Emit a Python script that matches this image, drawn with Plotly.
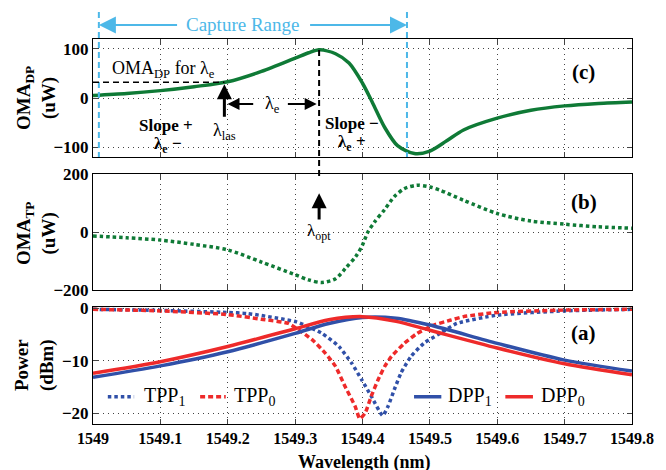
import plotly.graph_objects as go
from plotly.subplots import make_subplots

# ---------------- data ----------------
lam_dp = [1549.0, 1549.05, 1549.1, 1549.15, 1549.2, 1549.25, 1549.3, 1549.32, 1549.336,
          1549.36, 1549.38, 1549.40, 1549.415, 1549.433, 1549.452, 1549.477, 1549.5,
          1549.525, 1549.55, 1549.6, 1549.65, 1549.7, 1549.75, 1549.8]
oma_dp = [5, 9, 15, 23, 33, 54, 81, 92, 98, 90, 71, 30, -10, -60, -97, -113, -108,
          -87, -65, -41, -25, -16, -11, -8]

lam_tp = [1549.0, 1549.05, 1549.1, 1549.15, 1549.2, 1549.25, 1549.3, 1549.32, 1549.34,
          1549.36, 1549.375, 1549.39, 1549.40, 1549.408, 1549.418, 1549.433, 1549.447,
          1549.462, 1549.481, 1549.5, 1549.515, 1549.55, 1549.6, 1549.65, 1549.7,
          1549.75, 1549.8]
oma_tp = [-14, -20, -28, -43, -62, -104, -148, -166, -175, -162, -125, -85, -45, 0, 35,
          78, 122, 150, 162, 156, 145, 110, 64, 38, 27, 18, 13]

lam_t0 = [1549.0, 1549.1, 1549.2, 1549.25, 1549.29, 1549.326, 1549.345, 1549.36, 1549.374,
          1549.389, 1549.396, 1549.404, 1549.413, 1549.423, 1549.433, 1549.443, 1549.462,
          1549.481, 1549.506, 1549.53, 1549.55, 1549.6, 1549.7, 1549.8]
tpp0 = [-0.2, -0.5, -1.2, -2.1, -2.9, -6.1, -8.6, -11.1, -14.9, -18.7, -21.1, -20.0,
        -16.8, -13.7, -11.1, -9.2, -6.7, -4.8, -3.2, -2.3, -1.6, -0.8, -0.35, -0.2]

lam_t1 = [1549.0, 1549.1, 1549.2, 1549.229, 1549.302, 1549.340, 1549.365, 1549.384,
          1549.399, 1549.413, 1549.43, 1549.438, 1549.447, 1549.457, 1549.472, 1549.491,
          1549.515, 1549.54, 1549.6, 1549.7, 1549.8]
tpp1 = [-0.2, -0.4, -0.8, -1.0, -2.6, -4.8, -7.3, -10.5, -13.7, -16.8, -20.5, -18.7,
        -15.6, -12.4, -9.2, -6.7, -4.8, -2.9, -1.3, -0.5, -0.2]

lam_d = [1549.0, 1549.1, 1549.2, 1549.3, 1549.35, 1549.4, 1549.45, 1549.5, 1549.6,
         1549.7, 1549.8]
dpp0 = [-12.4, -10.2, -7.3, -3.9, -2.2, -1.6, -2.5, -4.2, -7.6, -10.6, -12.7]
dpp1 = [-13.2, -11.0, -8.3, -4.8, -2.9, -1.75, -1.9, -3.2, -6.7, -9.9, -12.0]

x_ticks = [1549, 1549.1, 1549.2, 1549.3, 1549.4, 1549.5, 1549.6, 1549.7, 1549.8]
x_ticktext = ["1549", "1549.1", "1549.2", "1549.3", "1549.4", "1549.5", "1549.6", "1549.7", "1549.8"]

lam_opt = 1549.3356
lam_las = 1549.195
cap_lo, cap_hi = 1549.0087, 1549.466
oma_las = 32

# ---------------- styles ----------------
GREEN = "#0f7a36"
BLUE = "#3050a8"
RED = "#ee2a2a"
LBLUE = "#4db8e8"
SERIF = "Liberation Serif"

fig = make_subplots(rows=3, cols=1)

fig.add_trace(go.Scatter(x=lam_dp, y=oma_dp, mode="lines", line=dict(color=GREEN, width=3.5, shape="spline", smoothing=0.8)), row=1, col=1)
fig.add_trace(go.Scatter(x=lam_tp, y=oma_tp, mode="lines", line=dict(color=GREEN, width=3.5, dash="3.5px,3px", shape="spline", smoothing=0.8)), row=2, col=1)
fig.add_trace(go.Scatter(x=lam_t1, y=tpp1, mode="lines", line=dict(color=BLUE, width=3.5, dash="3.5px,3px", shape="spline", smoothing=0.5)), row=3, col=1)
fig.add_trace(go.Scatter(x=lam_t0, y=tpp0, mode="lines", line=dict(color=RED, width=3.5, dash="5px,3px", shape="spline", smoothing=0.5)), row=3, col=1)
fig.add_trace(go.Scatter(x=lam_d, y=dpp1, mode="lines", line=dict(color=BLUE, width=3.5, shape="spline", smoothing=0.8)), row=3, col=1)
fig.add_trace(go.Scatter(x=lam_d, y=dpp0, mode="lines", line=dict(color=RED, width=3.5, shape="spline", smoothing=0.8)), row=3, col=1)

tickfont = dict(family=SERIF, size=17, color="black", weight="bold")
common_x = dict(range=[1549, 1549.8], tickvals=x_ticks, ticktext=x_ticktext, ticks="inside", ticklen=5,
                showline=True, linecolor="black", linewidth=1, mirror="ticks",
                showgrid=True, gridcolor="#444", griddash="1px,4px", gridwidth=1, zeroline=False,
                tickfont=dict(family=SERIF, size=16, color="black", weight="bold"))
common_y = dict(ticks="inside", ticklen=5, showline=True, linecolor="black", linewidth=1, mirror="ticks",
                showgrid=True, gridcolor="#444", griddash="1px,4px", gridwidth=1, zeroline=False,
                tickfont=tickfont)

fig.update_layout(
    xaxis=dict(common_x, showticklabels=False, domain=[0, 1]),
    xaxis2=dict(common_x, showticklabels=False, domain=[0, 1]),
    xaxis3=dict(common_x, showticklabels=True, domain=[0, 1]),
    yaxis=dict(common_y, range=[-120, 120], tickvals=[-100, 0, 100], domain=[0.6935, 1.0]),
    yaxis2=dict(common_y, range=[-201, 201], tickvals=[-200, 0, 200], domain=[0.348, 0.6494]),
    yaxis3=dict(common_y, range=[-22.1, 0.3], tickvals=[-20, -10, 0], domain=[0.0, 0.3047]),
    width=666, height=470,
    margin=dict(l=93, r=24, t=39, b=46),
    paper_bgcolor="white", plot_bgcolor="white",
    showlegend=False,
    font=dict(family=SERIF, color="black"),
)

def py(px):
    return (424 - px) / 385.0

shapes = []
# capture range vertical dashed lines
for lx in (cap_lo, cap_hi):
    shapes.append(dict(type="line", xref="x", yref="paper", x0=lx, x1=lx, y0=py(12), y1=py(157),
                       line=dict(color=LBLUE, width=2, dash="6px,4px")))
# lambda_opt dashed vertical
shapes.append(dict(type="line", xref="x", yref="paper", x0=lam_opt, x1=lam_opt, y0=py(50), y1=py(176),
                   line=dict(color="black", width=2, dash="6px,4px")))
# OMA for lambda_e horizontal dashed
shapes.append(dict(type="line", xref="x", yref="y", x0=1549.0, x1=lam_las, y0=oma_las, y1=oma_las,
                   line=dict(color="black", width=1.5, dash="6px,4px")))
# legend samples in panel (a)
leg_y = -16.9
shapes.append(dict(type="line", xref="x3", yref="y3", x0=1549.022, x1=1549.061, y0=leg_y, y1=leg_y,
                   line=dict(color=BLUE, width=3.5, dash="3.5px,3px")))
shapes.append(dict(type="line", xref="x3", yref="y3", x0=1549.159, x1=1549.197, y0=leg_y, y1=leg_y,
                   line=dict(color=RED, width=3.5, dash="5px,3px")))
shapes.append(dict(type="line", xref="x3", yref="y3", x0=1549.4765, x1=1549.517, y0=leg_y, y1=leg_y,
                   line=dict(color=BLUE, width=3.5)))
shapes.append(dict(type="line", xref="x3", yref="y3", x0=1549.612, x1=1549.653, y0=leg_y, y1=leg_y,
                   line=dict(color=RED, width=3.5)))
fig.update_layout(shapes=shapes)

ann = []
def text(x, y, s, xref="x", yref="y", size=17, color="black", xanchor="center", bold=False, angle=0):
    ann.append(dict(x=x, y=y, xref=xref, yref=yref, text=s, showarrow=False, xanchor=xanchor,
                    yanchor="middle", textangle=angle,
                    font=dict(family=SERIF, size=size, color=color, weight="bold" if bold else "normal")))

def arrow(x, y, ax, ay, xref="x", yref="y", color="black", width=2.5, size=1.0):
    ann.append(dict(x=x, y=y, ax=ax, ay=ay, xref=xref, yref=yref, axref=xref, ayref=yref, text="",
                    showarrow=True, arrowhead=2, arrowsize=size, arrowwidth=width, arrowcolor=color))

def harrow_paper(x, ypaper, ax, color, width, size):
    ann.append(dict(x=x, y=ypaper, ax=ax, ay=0, xref="x", yref="paper", axref="x", ayref="pixel", text="",
                    showarrow=True, arrowhead=2, arrowsize=size, arrowwidth=width, arrowcolor=color))

# capture range
harrow_paper(cap_lo, py(25), 1549.127, LBLUE, 2, 1.7)
harrow_paper(cap_hi, py(25), 1549.320, LBLUE, 2, 1.7)
text(0.277, py(25), "Capture Range", xref="paper", yref="paper", size=19, color=LBLUE)

# panel (c) annotations
text(1549.025, 57, "OMA<sub>DP</sub> for λ<sub>e</sub>", xanchor="left", size=18)
arrow(lam_las, 28, lam_las, -41, width=3, size=1.0)
text(lam_las, -68, "λ<sub>las</sub>", size=18)
arrow(1549.1996, -12, 1549.240, -12, width=2, size=1.2)
arrow(1549.332, -12, 1549.287, -12, width=2, size=1.2)
text(1549.2667, -14, "λ<sub>e</sub>", size=18)
text(1549.109, -55, "Slope +", bold=True, size=17)
text(1549.112, -96, "λ<sub>e</sub> −", bold=True, size=17)
text(1549.385, -51, "Slope −", bold=True, size=17)
text(1549.385, -92, "λ<sub>e</sub> +", bold=True, size=17)
text(1549.7286, 53, "(c)", bold=True, size=21)

# panel (b)
arrow(lam_opt, 134, lam_opt, 38, xref="x2", yref="y2", width=3, size=1.0)
text(lam_opt, 0, "λ<sub>opt</sub>", xref="x2", yref="y2", size=17)
text(1549.7286, 103, "(b)", xref="x2", yref="y2", bold=True, size=21)

# panel (a)
text(1549.7286, -4.7, "(a)", xref="x3", yref="y3", bold=True, size=21)
text(1549.073, leg_y, "TPP<sub>1</sub>", xref="x3", yref="y3", xanchor="left", size=20)
text(1549.207, leg_y, "TPP<sub>0</sub>", xref="x3", yref="y3", xanchor="left", size=20)
text(1549.5246, leg_y, "DPP<sub>1</sub>", xref="x3", yref="y3", xanchor="left", size=20)
text(1549.6616, leg_y, "DPP<sub>0</sub>", xref="x3", yref="y3", xanchor="left", size=20)

# axis titles
def pxx(px):
    return (px - 93) / 549.0
text(pxx(35), py(98), "OMA<sub>DP</sub><br>(uW)", xref="paper", yref="paper", bold=True, size=19, angle=-90)
text(pxx(35), py(234), "OMA<sub>TP</sub><br>(uW)", xref="paper", yref="paper", bold=True, size=19, angle=-90)
text(pxx(33), py(365), "Power<br>(dBm)", xref="paper", yref="paper", bold=True, size=19, angle=-90)
ann.append(dict(x=pxx(370), y=py(450), xref="paper", yref="paper", text="Wavelength (nm)", showarrow=False,
                xanchor="center", yanchor="top",
                font=dict(family=SERIF, size=18, color="black", weight="bold")))

fig.update_layout(annotations=ann)
fig.write_html("out.html", config={"displayModeBar": False},
               post_script="document.body.style.margin='0';document.body.style.overflow='hidden';")
